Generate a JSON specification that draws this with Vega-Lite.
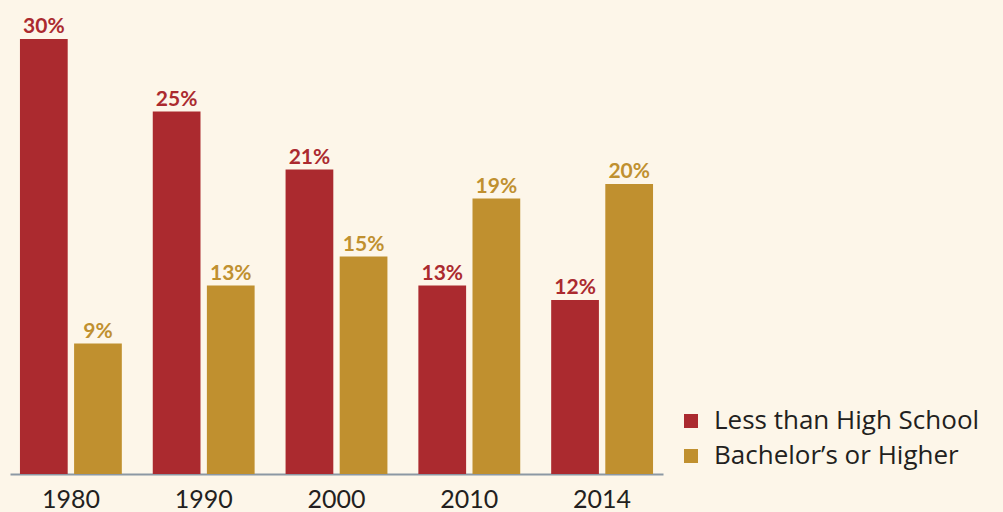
{
  "$schema": "https://vega.github.io/schema/vega-lite/v6.json",
  "width": 653,
  "height": 435,
  "autosize": {"type": "none"},
  "padding": {"left": 10, "top": 39, "right": 340, "bottom": 38},
  "background": "#fdf6e9",
  "config": {"view": {"stroke": null}, "font": "Lato"},
  "data": {
    "values": [
      {"year": "1980", "group": "Less than High School", "value": 30, "label": "30%"},
      {"year": "1980", "group": "Bachelor’s or Higher", "value": 9, "label": "9%"},
      {"year": "1990", "group": "Less than High School", "value": 25, "label": "25%"},
      {"year": "1990", "group": "Bachelor’s or Higher", "value": 13, "label": "13%"},
      {"year": "2000", "group": "Less than High School", "value": 21, "label": "21%"},
      {"year": "2000", "group": "Bachelor’s or Higher", "value": 15, "label": "15%"},
      {"year": "2010", "group": "Less than High School", "value": 13, "label": "13%"},
      {"year": "2010", "group": "Bachelor’s or Higher", "value": 19, "label": "19%"},
      {"year": "2014", "group": "Less than High School", "value": 12, "label": "12%"},
      {"year": "2014", "group": "Bachelor’s or Higher", "value": 20, "label": "20%"}
    ]
  },
  "encoding": {
    "x": {
      "field": "year", "type": "nominal",
      "scale": {"paddingInner": 0.233, "paddingOuter": 0.075},
      "axis": {
        "title": null, "labelAngle": 0, "ticks": false, "tickSize": 0,
        "labelPadding": 13, "labelFontSize": 25, "labelColor": "#231f20",
        "labelFont": "Lato", "domainColor": "#8c98a4", "domainWidth": 2
      }
    },
    "xOffset": {
      "field": "group", "type": "nominal",
      "sort": ["Less than High School", "Bachelor’s or Higher"],
      "scale": {"paddingInner": 0.118, "paddingOuter": 0}
    },
    "y": {
      "field": "value", "type": "quantitative",
      "scale": {"domain": [0, 30], "nice": false},
      "axis": null
    }
  },
  "layer": [
    {
      "mark": {"type": "bar"},
      "encoding": {
        "color": {
          "field": "group", "type": "nominal",
          "sort": ["Less than High School", "Bachelor’s or Higher"],
          "scale": {"domain": ["Less than High School", "Bachelor’s or Higher"], "range": ["#ab2a2f", "#c0902f"]},
          "legend": {
            "title": null, "orient": "none", "legendX": 668, "legendY": 369,
            "symbolType": "square", "symbolSize": 196, "symbolStrokeWidth": 0,
            "labelFontSize": 26, "labelColor": "#231f20", "labelFont": "Open Sans",
            "labelOffset": 10, "rowPadding": 9, "labelLimit": 400
          }
        }
      }
    },
    {
      "mark": {"type": "text", "baseline": "alphabetic", "dy": -6, "fontSize": 21, "fontWeight": "bold", "font": "Lato"},
      "encoding": {
        "text": {"field": "label", "type": "nominal"},
        "color": {
          "field": "group", "type": "nominal", "legend": null,
          "scale": {"domain": ["Less than High School", "Bachelor’s or Higher"], "range": ["#ab2a2f", "#c0902f"]}
        }
      }
    }
  ]
}
